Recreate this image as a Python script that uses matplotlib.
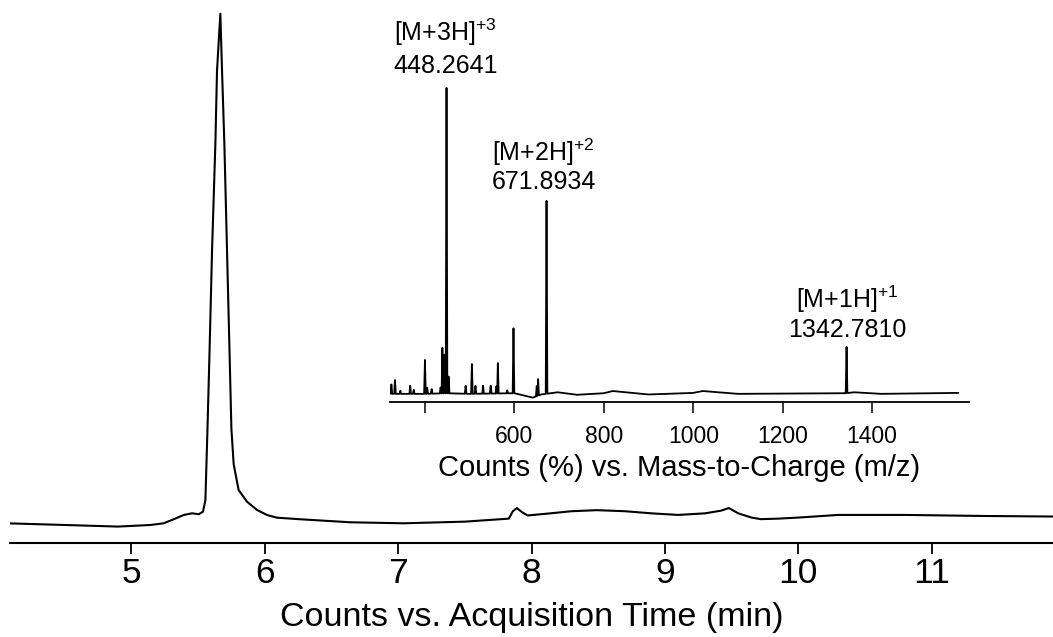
import numpy as np
import matplotlib
matplotlib.use('Agg')
import matplotlib.pyplot as plt

plt.rcParams['font.family'] = ['Liberation Sans', 'DejaVu Sans']
plt.rcParams['mathtext.fontset'] = 'custom'
plt.rcParams['mathtext.rm'] = 'Liberation Sans'

# ---- chromatogram (time in min, relative counts) ----
time_min = [4.09, 4.5, 4.9, 5.142, 5.242, 5.317, 5.392, 5.455, 5.505, 5.537, 5.555,
            5.57, 5.585, 5.605, 5.630, 5.642, 5.667, 5.680, 5.697, 5.717, 5.737, 5.75, 5.767,
            5.804, 5.867, 5.942, 6.017, 6.092, 6.267, 6.642, 7.04, 7.5, 7.83, 7.86,
            7.89, 7.93, 7.97, 8.1, 8.3, 8.49, 8.7, 8.9, 9.1, 9.3, 9.42, 9.48, 9.55,
            9.65, 9.72, 9.85, 10.0, 10.3, 10.8, 11.4, 11.91]
counts = [3.7, 3.4, 3.1, 3.4, 3.72, 4.48, 5.29, 5.61, 5.43, 5.92, 8.1,
          21.0, 35.2, 55.4, 75.6, 89.2, 100, 89, 75.6, 55.4, 35, 21.5, 14.9,
          10.0, 7.8, 6.24, 5.29, 4.78, 4.48, 3.91, 3.72, 4.03, 4.6, 6.0,
          6.6, 5.8, 5.2, 5.5, 6.0, 6.2, 6.0, 5.6, 5.3, 5.6, 6.1, 6.6, 5.6,
          4.8, 4.5, 4.6, 4.8, 5.3, 5.3, 5.1, 5.0]
time_ticks = [5, 6, 7, 8, 9, 10, 11]

# ---- mass spectrum (m/z, counts %) ----
base_mz = [317, 400, 448, 500, 600, 641, 660, 697, 740, 800, 820, 900, 1000, 1021,
           1100, 1340, 1360, 1420, 1592]
base_int = [2.5, 2.5, 2.7, 2.5, 2.7, 1.3, 2.3, 3.0, 2.2, 2.7, 3.4, 2.3, 2.8, 3.4,
            2.5, 2.7, 3.0, 2.5, 2.8]
peak_mz = [325, 333, 345, 367, 375, 400, 405, 415, 435, 439, 444, 448.2641, 453,
           491, 505, 513, 530, 547, 560, 563, 584, 598, 650, 653, 671.8934, 1342.7810]
peak_int = [5.5, 6.9, 3.5, 5.1, 3.8, 13.3, 4.5, 4.0, 4.5, 17.2, 15, 100, 8,
            5.1, 12, 5.1, 5.1, 5.1, 5.0, 12.3, 3.6, 23.4, 5.0, 7.2, 64, 17.5]
ion_names = ['[M+3H]$^{+3}$', '[M+2H]$^{+2}$', '[M+1H]$^{+1}$']
ion_mz = [448.2641, 671.8934, 1342.7810]
mz_ticks = [400, 600, 800, 1000, 1200, 1400]

# label offsets above each ion peak (pixels): (dx, number dy, name dy)
label_offsets = [(-1, 22, 56), (-3, 19, 49), (1, 17, 47)]

fig = plt.figure(figsize=(10.53, 6.37), dpi=100)

# main chromatogram
ax = fig.add_axes([0.0095, 0.1476, 0.9905, 0.8524])
ax.plot(time_min, counts, color='black', lw=1.5, solid_joinstyle='round')
ax.set_xlim(4.09, 11.91)
ax.set_ylim(0, 102.6)
for s in ['top', 'right', 'left']:
    ax.spines[s].set_visible(False)
ax.spines['bottom'].set_linewidth(1.5)
ax.set_yticks([])
ax.set_xticks(time_ticks)
ax.tick_params(axis='x', direction='out', length=8, width=1.3, labelsize=25.5, pad=2)
ax.set_xlabel('Counts vs. Acquisition Time (min)', fontsize=24.5, labelpad=9)

# inset mass spectrum
w = 1.8
grid = np.sort(np.concatenate([base_mz, peak_mz,
                               np.array(peak_mz) - w, np.array(peak_mz) + w]))
spec = np.interp(grid, base_mz, base_int)
for mz, h in zip(peak_mz, peak_int):
    spec = np.maximum(spec, np.interp(grid, [mz - w, mz, mz + w], [0, h, 0], left=0, right=0))

ax2 = fig.add_axes([0.370, 0.3694, 0.550, 0.5364])
ax2.patch.set_alpha(0)
ax2.plot(grid, spec, color='black', lw=1.3)
ax2.set_xlim(321, 1616)
ax2.set_ylim(0, 108.9)
for s in ['top', 'right', 'left']:
    ax2.spines[s].set_visible(False)
ax2.spines['bottom'].set_linewidth(1.3)
ax2.set_yticks([])
ax2.set_xticks(mz_ticks)
ax2.set_xticklabels([''] + [str(t) for t in mz_ticks[1:]])
ax2.tick_params(axis='x', direction='out', length=8, width=1.1, labelsize=16.5, pad=9)
ax2.set_xlabel('Counts (%) vs. Mass-to-Charge (m/z)', fontsize=21, labelpad=4)

for name, mz, (dx, dy_num, dy_name) in zip(ion_names, ion_mz, label_offsets):
    h = peak_int[peak_mz.index(mz)]
    ax2.annotate(f'{mz:.4f}', xy=(mz, h), xytext=(dx, dy_num), textcoords='offset pixels',
                 ha='center', va='center', fontsize=18)
    ax2.annotate(name, xy=(mz, h), xytext=(dx, dy_name), textcoords='offset pixels',
                 ha='center', va='center', fontsize=18)

fig.savefig('out.png', dpi=100)
